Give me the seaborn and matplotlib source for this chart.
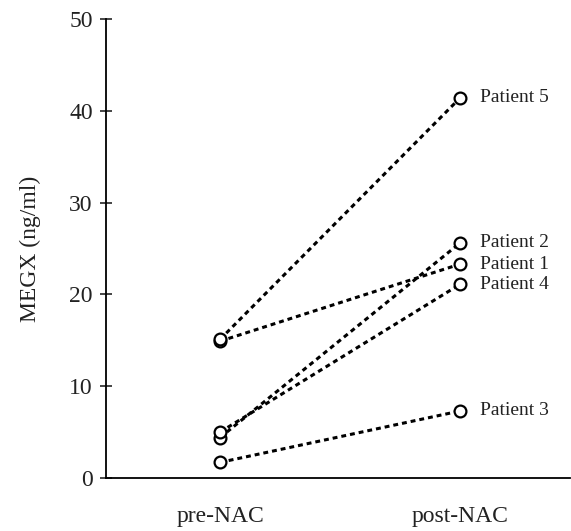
import matplotlib
matplotlib.use("Agg")
import matplotlib.pyplot as plt
import seaborn as sns
import pandas as pd

patients = ["Patient 1", "Patient 2", "Patient 3", "Patient 4", "Patient 5"]
timepoints = ["pre-NAC", "post-NAC"]
pre_nac = [14.9, 4.4, 1.7, 5.0, 15.1]
post_nac = [23.3, 25.6, 7.3, 21.1, 41.4]
y_ticks = [0, 10, 20, 30, 40, 50]

rows = []
for p, a, b in zip(patients, pre_nac, post_nac):
    rows.append({"patient": p, "time": 0, "megx": a})
    rows.append({"patient": p, "time": 1, "megx": b})
df = pd.DataFrame(rows)

sns.set_theme(style="ticks")
plt.rcParams["font.family"] = ["Liberation Serif", "DejaVu Serif"]

W, H = 571, 531
fig = plt.figure(figsize=(W / 100, H / 100), dpi=100)
ax = fig.add_axes([106 / W, 1 - 478 / H, (570 - 106) / W, (478 - 19) / H])

sns.lineplot(data=df, x="time", y="megx", units="patient", estimator=None,
             color="black", linestyle=(0, (1.6, 1.3)), linewidth=2.2,
             marker="o", markersize=8.5, markerfacecolor="white",
             markeredgecolor="black", markeredgewidth=1.6, ax=ax, legend=False)

for p, b in zip(patients, post_nac):
    ax.text(1.083, b, p, fontsize=14, va="center", ha="left", color="#222222")

ax.set_xlim(-0.475, 1.458)
ax.set_ylim(0, 50)
ax.set_yticks(y_ticks)
ax.set_yticklabels([str(t) for t in y_ticks], fontsize=17, color="#222222")
ax.set_xticks([0, 1])
ax.set_xticklabels(timepoints, fontsize=17, color="#222222")
ax.tick_params(axis="x", length=0, pad=20)
ax.tick_params(axis="y", direction="inout", length=9, width=1.2, pad=5)
ax.set_xlabel("")
ax.set_ylabel("MEGX (ng/ml)", fontsize=17, labelpad=20, color="#222222")
for s in ["top", "right"]:
    ax.spines[s].set_visible(False)
for s in ["left", "bottom"]:
    ax.spines[s].set_linewidth(1.3)
    ax.spines[s].set_color("black")

fig.savefig("out.png", dpi=100)
